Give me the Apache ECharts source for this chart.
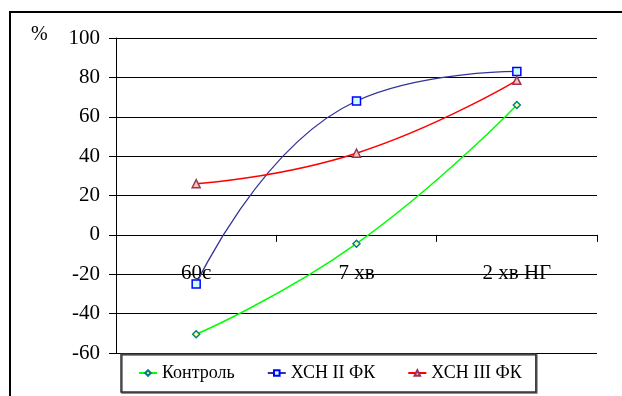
<!DOCTYPE html>
<html><head><meta charset="utf-8">
<style>html,body{margin:0;padding:0;background:#fff;}#c{width:622px;height:396px;}</style>
<script src="https://cdn.jsdelivr.net/npm/echarts@6/dist/echarts.min.js"></script>
</head><body><div id="c"></div>
<script>
var categories = ['60с', '7 хв', '2 хв НГ'];
var seriesNames = ['Контроль', 'ХСН II ФК', 'ХСН III ФК'];
var control = [-50.5, -4.5, 66];
var hsn2 = [-25, 68, 83];
var hsn3 = [26, 41.5, 78.5];
var yMin = -60, yMax = 100, yStep = 20;

var font = 'Liberation Serif';
var chart = echarts.init(document.getElementById('c'), null, {renderer: 'canvas'});
chart.setOption({
  animation: false,
  backgroundColor: '#fff',
  textStyle: {fontFamily: font},
  graphic: [
    {type: 'rect', shape: {x: 10, y: 12, width: 700, height: 500}, style: {fill: 'none', stroke: '#000', lineWidth: 2}, z: 0},
    {type: 'text', left: 31, top: 25, style: {text: '%', font: '20px "Liberation Serif"', fill: '#000'}}
  ],
  grid: {left: 116, right: 25, top: 38, bottom: 43, containLabel: false},
  legend: {
    left: 121, top: 354,
    padding: [10, 14, 10, 17],
    itemGap: 32,
    itemWidth: 18, itemHeight: 7,
    borderColor: '#333', borderWidth: 1.5,
    backgroundColor: '#fff',
    shadowColor: '#666', shadowOffsetX: 1, shadowOffsetY: 1, shadowBlur: 0,
    textStyle: {fontFamily: font, fontSize: 18, color: '#000'},
    data: seriesNames,
    z: 10
  },
  xAxis: [{
    type: 'category', data: categories, boundaryGap: true,
    axisLine: {onZero: true, lineStyle: {color: '#000', width: 1}},
    axisTick: {show: true, length: 7, lineStyle: {color: '#000'}},
    axisLabel: {show: false},
    splitLine: {show: false}
  }, {
    type: 'category', data: categories, boundaryGap: true, position: 'bottom',
    offset: -119,
    axisLine: {show: false, onZero: false},
    axisTick: {show: false},
    axisLabel: {margin: 29, fontSize: 21, color: '#000', fontFamily: font},
    splitLine: {show: false}
  }],
  yAxis: {
    type: 'value', min: yMin, max: yMax, interval: yStep,
    axisLine: {show: true, lineStyle: {color: '#000', width: 1}},
    axisTick: {show: true, length: 7, lineStyle: {color: '#000'}},
    axisLabel: {margin: 16, fontSize: 21, color: '#000', fontFamily: font},
    splitLine: {show: true, lineStyle: {color: '#000', width: 1}}
  },
  series: [
    {name: seriesNames[0], type: 'line', data: control, smooth: 0.5,
     symbol: 'diamond', symbolSize: 7,
     lineStyle: {color: '#00ff00', width: 1.5},
     itemStyle: {color: '#ffff99', borderColor: '#008080', borderWidth: 1.5}, z: 3},
    {name: seriesNames[1], type: 'line', data: hsn2, smooth: 0.5,
     symbol: 'rect', symbolSize: 8,
     lineStyle: {color: '#333399', width: 1.3},
     itemStyle: {color: '#ccffff', borderColor: '#0000ff', borderWidth: 1.5}, z: 3},
    {name: seriesNames[2], type: 'line', data: hsn3, smooth: 0.5,
     symbol: 'triangle', symbolSize: 8,
     lineStyle: {color: '#ff0000', width: 1.5},
     itemStyle: {color: '#ffcc99', borderColor: '#993366', borderWidth: 1.5}, z: 3}
  ]
});
</script>
</body></html>
